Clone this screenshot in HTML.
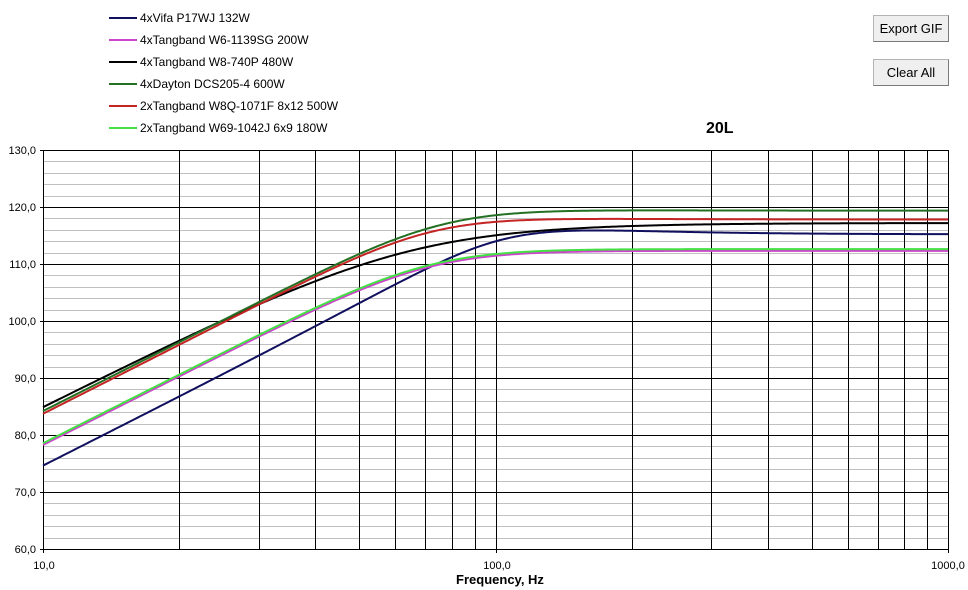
<!DOCTYPE html>
<html><head><meta charset="utf-8"><style>
html,body{margin:0;padding:0;background:#fff;width:968px;height:590px;overflow:hidden;font-family:"Liberation Sans",Arial,sans-serif;}
#c{position:absolute;left:0;top:0;}
.btn{position:absolute;left:873px;width:76px;height:27px;box-sizing:border-box;background:#efefef;border:1px solid #b4b4b4;border-right-color:#7a7a7a;border-bottom-color:#7a7a7a;font-size:13px;color:#000;text-align:center;line-height:25px;font-family:"Liberation Sans",Arial,sans-serif;}
</style></head><body>
<svg id="c" width="968" height="590" xmlns="http://www.w3.org/2000/svg" font-family="Liberation Sans, Arial, sans-serif">
<g stroke="#c0c0c0" stroke-width="1" shape-rendering="crispEdges">
<line x1="43" x2="948" y1="161.5" y2="161.5"/><line x1="43" x2="948" y1="173.5" y2="173.5"/><line x1="43" x2="948" y1="184.5" y2="184.5"/><line x1="43" x2="948" y1="196.5" y2="196.5"/>
<line x1="43" x2="948" y1="218.5" y2="218.5"/><line x1="43" x2="948" y1="230.5" y2="230.5"/><line x1="43" x2="948" y1="241.5" y2="241.5"/><line x1="43" x2="948" y1="253.5" y2="253.5"/>
<line x1="43" x2="948" y1="275.5" y2="275.5"/><line x1="43" x2="948" y1="287.5" y2="287.5"/><line x1="43" x2="948" y1="298.5" y2="298.5"/><line x1="43" x2="948" y1="310.5" y2="310.5"/>
<line x1="43" x2="948" y1="332.5" y2="332.5"/><line x1="43" x2="948" y1="344.5" y2="344.5"/><line x1="43" x2="948" y1="355.5" y2="355.5"/><line x1="43" x2="948" y1="367.5" y2="367.5"/>
<line x1="43" x2="948" y1="389.5" y2="389.5"/><line x1="43" x2="948" y1="401.5" y2="401.5"/><line x1="43" x2="948" y1="412.5" y2="412.5"/><line x1="43" x2="948" y1="424.5" y2="424.5"/>
<line x1="43" x2="948" y1="446.5" y2="446.5"/><line x1="43" x2="948" y1="458.5" y2="458.5"/><line x1="43" x2="948" y1="469.5" y2="469.5"/><line x1="43" x2="948" y1="481.5" y2="481.5"/>
<line x1="43" x2="948" y1="503.5" y2="503.5"/><line x1="43" x2="948" y1="515.5" y2="515.5"/><line x1="43" x2="948" y1="526.5" y2="526.5"/><line x1="43" x2="948" y1="538.5" y2="538.5"/>
</g>
<g stroke="#000" stroke-width="1" shape-rendering="crispEdges">
<line x1="40" x2="948" y1="150.5" y2="150.5"/><line x1="40" x2="948" y1="207.5" y2="207.5"/><line x1="40" x2="948" y1="264.5" y2="264.5"/><line x1="40" x2="948" y1="321.5" y2="321.5"/>
<line x1="40" x2="948" y1="378.5" y2="378.5"/><line x1="40" x2="948" y1="435.5" y2="435.5"/><line x1="40" x2="948" y1="492.5" y2="492.5"/><line x1="40" x2="949" y1="549.5" y2="549.5"/>
<line x1="43.5" x2="43.5" y1="150" y2="553"/>
<line x1="179.5" x2="179.5" y1="150" y2="549"/><line x1="259.5" x2="259.5" y1="150" y2="549"/><line x1="315.5" x2="315.5" y1="150" y2="549"/><line x1="359.5" x2="359.5" y1="150" y2="549"/>
<line x1="395.5" x2="395.5" y1="150" y2="549"/><line x1="425.5" x2="425.5" y1="150" y2="549"/><line x1="452.5" x2="452.5" y1="150" y2="549"/><line x1="475.5" x2="475.5" y1="150" y2="549"/>
<line x1="496.5" x2="496.5" y1="150" y2="553"/>
<line x1="632.5" x2="632.5" y1="150" y2="549"/><line x1="711.5" x2="711.5" y1="150" y2="549"/><line x1="768.5" x2="768.5" y1="150" y2="549"/><line x1="812.5" x2="812.5" y1="150" y2="549"/>
<line x1="848.5" x2="848.5" y1="150" y2="549"/><line x1="878.5" x2="878.5" y1="150" y2="549"/><line x1="904.5" x2="904.5" y1="150" y2="549"/><line x1="927.5" x2="927.5" y1="150" y2="549"/>
<line x1="948.5" x2="948.5" y1="150" y2="553"/>
</g>
<g id="curves" fill="none" stroke-width="2" stroke-linejoin="round"></g>
<g font-size="11" fill="#000" text-anchor="end">
<text x="36" y="154">130,0</text><text x="36" y="211">120,0</text><text x="36" y="268">110,0</text><text x="36" y="325">100,0</text>
<text x="36" y="382">90,0</text><text x="36" y="439">80,0</text><text x="36" y="496">70,0</text><text x="36" y="553">60,0</text>
</g>
<g font-size="11" fill="#000" text-anchor="middle">
<text x="44" y="569">10,0</text><text x="497" y="569">100,0</text><text x="948" y="569">1000,0</text>
</g>
<text x="500" y="584" font-size="13" font-weight="bold" text-anchor="middle">Frequency, Hz</text>
<text x="706" y="133" font-size="16" font-weight="bold">20L</text>
<g stroke-width="2" shape-rendering="crispEdges">
<line x1="109" x2="137" y1="18" y2="18" stroke="#10105e"/>
<line x1="109" x2="137" y1="40" y2="40" stroke="#cc44cc"/>
<line x1="109" x2="137" y1="62" y2="62" stroke="#000"/>
<line x1="109" x2="137" y1="84" y2="84" stroke="#237023"/>
<line x1="109" x2="137" y1="106" y2="106" stroke="#c42424"/>
<line x1="109" x2="137" y1="128" y2="128" stroke="#44e044"/>
</g>
<g font-size="12" fill="#000">
<text x="140" y="22">4xVifa P17WJ 132W</text>
<text x="140" y="44">4xTangband W6-1139SG 200W</text>
<text x="140" y="66">4xTangband W8-740P 480W</text>
<text x="140" y="88">4xDayton DCS205-4 600W</text>
<text x="140" y="110">2xTangband W8Q-1071F 8x12 500W</text>
<text x="140" y="132">2xTangband W69-1042J 6x9 180W</text>
</g>
</svg>
<div class="btn" style="top:15px;">Export GIF</div>
<div class="btn" style="top:59px;">Clear All</div>
<script>
(function(){
  var ns="http://www.w3.org/2000/svg";
  var g=document.getElementById("curves");
  function X(f){return 43+452.5*Math.log10(f/10);}
  function Y(d){return 150+(130-d)*5.7;}
  var S=[["#10105e",103.5,0.9,115.2],["#cc44cc",71,0.72,112.3],["#000000",63.8,0.56,117.2],["#237023",75.7,0.75,119.35],["#c42424",71.2,0.77,117.8],["#44e044",71,0.72,112.6]];
  for(var i=0;i<S.length;i++){
    var s=S[i],pts=[];
    for(var k=0;k<=400;k++){
      var f=10*Math.pow(100,k/400);
      var x=f/s[1],x2=x*x,x4=x2*x2;
      var h=x4/((1-x2)*(1-x2)+x2/(s[2]*s[2]));
      var d=s[3]+10*Math.log10(h);
      pts.push(X(f).toFixed(2)+","+Y(d).toFixed(2));
    }
    var p=document.createElementNS(ns,"polyline");
    p.setAttribute("points",pts.join(" "));
    p.setAttribute("stroke",s[0]);
    g.appendChild(p);
  }
})();
</script>
</body></html>
